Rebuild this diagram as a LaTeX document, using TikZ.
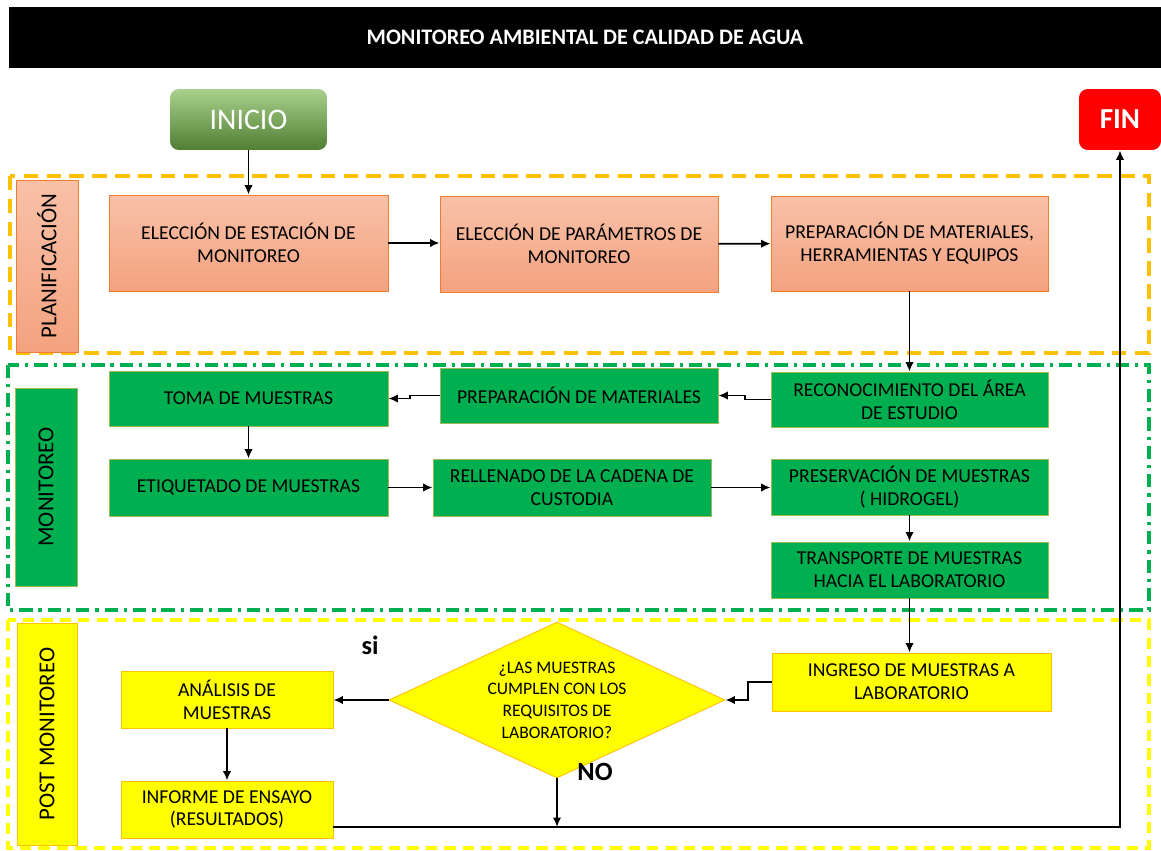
\documentclass[tikz,border=0pt]{standalone}
\usepackage{fontspec}
\setmainfont{Carlito}
\usetikzlibrary{shapes.geometric,arrows.meta}

\definecolor{plantop}{HTML}{F8C1A8}
\definecolor{planbot}{HTML}{F4A27F}
\definecolor{planborde}{HTML}{ED7D31}
\definecolor{monverde}{HTML}{00B050}
\definecolor{monborde}{HTML}{9BBB59}
\definecolor{postamar}{HTML}{FFFF00}
\definecolor{postborde}{HTML}{FFC000}
\definecolor{marconar}{HTML}{FFC000}
\definecolor{iniciotop}{HTML}{A9D18E}
\definecolor{iniciobot}{HTML}{507E32}

\begin{document}
\begin{tikzpicture}[x=0.02cm, y=-0.02cm,
  caja/.style={draw, line width=0.5pt, align=center, inner sep=0pt,
    font=\fontsize{11.2}{13}\selectfont, text=black},
  plan/.style={caja, draw=planborde, top color=plantop, bottom color=planbot},
  monit/.style={caja, draw=monborde, fill=monverde},
  post/.style={caja, draw=postborde, fill=postamar},
  etapa/.style={rotate=90, inner sep=0pt, font=\fontsize{13}{15}\selectfont},
  flecha/.style={-{Latex[length=1.9mm,width=1.7mm]}, line width=1.05pt},
  linea/.style={line width=1.05pt}]

\useasboundingbox (0,0) rectangle (1161,851);

% titulo
\node [fill=black, text=white, minimum width=23.04cm, minimum height=1.22cm, inner sep=0pt,
  font=\bfseries\fontsize{12.6}{14}\selectfont] (titulo) at (585,37.5) {MONITOREO AMBIENTAL DE CALIDAD DE AGUA};

\node [rounded corners=5pt, top color=iniciotop, bottom color=iniciobot, text=white,
  minimum width=3.14cm, minimum height=1.22cm, inner sep=0pt, font=\fontsize{17}{19}\selectfont] (inicio) at (248.5,119.5) {INICIO};
\node [rounded corners=5pt, fill=red, text=white, minimum width=1.64cm, minimum height=1.22cm,
  inner sep=0pt, font=\bfseries\fontsize{16.5}{18}\selectfont] (fin) at (1120,119.5) {FIN};

% marcos de etapas
\draw [marconar, line width=2.2pt, dash pattern=on 8.2pt off 4.8pt] (10,176) rectangle (1149,353);
\draw [monverde, line width=1.8pt, dash pattern=on 7.6pt off 3.4pt on 1.8pt off 3.4pt] (8,365) rectangle (1149,610);
\draw [postamar, line width=1.8pt, dash pattern=on 6.5pt off 4pt] (8,620) rectangle (1149,848);

\node [etapa, top color=plantop, bottom color=planbot, draw=planborde, line width=0.5pt,
  minimum width=3.44cm, minimum height=1.24cm] (planif) at (47,266) {PLANIFICACIÓN};
\node [etapa, fill=monverde, draw=monborde, line width=0.5pt,
  minimum width=3.96cm, minimum height=1.24cm] (monitoreo) at (46,487) {MONITOREO};
\node [etapa, fill=postamar, draw=postborde, line width=0.5pt,
  minimum width=4.44cm, minimum height=1.2cm] (postmon) at (47,734) {POST MONITOREO};

% planificacion
\node [plan, minimum width=5.58cm, minimum height=1.92cm] (estacion) at (248.5,243) {ELECCIÓN DE ESTACIÓN DE\\MONITOREO};
\node [plan, minimum width=5.56cm, minimum height=1.92cm] (parametros) at (579,244) {ELECCIÓN DE PARÁMETROS DE\\MONITOREO};
\node [plan, minimum width=5.54cm, minimum height=1.9cm] (materiales) at (909.5,243.5) {PREPARACIÓN DE MATERIALES,\\HERRAMIENTAS Y EQUIPOS};

% monitoreo
\node [monit, minimum width=5.58cm, minimum height=1.1cm] (toma) at (248.5,398.5) {TOMA DE MUESTRAS};
\node [monit, minimum width=5.56cm, minimum height=1.1cm] (prep) at (579,395.5) {PREPARACIÓN DE MATERIALES};
\node [monit, minimum width=5.54cm, minimum height=1.1cm] (reco) at (909.5,399.5) {RECONOCIMIENTO DEL ÁREA\\DE ESTUDIO};
\node [monit, minimum width=5.58cm, minimum height=1.14cm] (etiqueta) at (248.5,487.5) {ETIQUETADO DE MUESTRAS};
\node [monit, minimum width=5.56cm, minimum height=1.14cm] (cadena) at (572,487.5) {RELLENADO DE LA CADENA DE\\CUSTODIA};
\node [monit, minimum width=5.54cm, minimum height=1.12cm] (preserva) at (909.5,487) {PRESERVACIÓN DE MUESTRAS\\( HIDROGEL)};
\node [monit, minimum width=5.54cm, minimum height=1.12cm] (transporte) at (909.5,570) {TRANSPORTE DE MUESTRAS\\HACIA EL LABORATORIO};

% post monitoreo
\node [post, minimum width=5.58cm, minimum height=1.16cm] (ingreso) at (911.5,682) {INGRESO DE MUESTRAS A\\LABORATORIO};
\node [post, diamond, shape aspect=2.15, minimum width=6.72cm, minimum height=3.12cm,
  font=\fontsize{10}{12.3}\selectfont] (requisitos) at (557,700) {¿LAS MUESTRAS\\CUMPLEN CON LOS\\REQUISITOS DE\\LABORATORIO?};
\node [post, minimum width=4.24cm, minimum height=1.14cm] (analisis) at (227,699.5) {ANÁLISIS DE\\MUESTRAS};
\node [post, minimum width=4.24cm, minimum height=1.14cm] (informe) at (227,809.5) {INFORME DE ENSAYO\\(RESULTADOS)};
\node [font=\bfseries\fontsize{15}{17}\selectfont] (si) at (370,645) {si};
\node [font=\bfseries\fontsize{15}{17}\selectfont] (no) at (595,772) {NO};
\coordinate (retorno) at (557,827);

% conectores
\draw [flecha] (inicio) -- (estacion);
\draw [flecha] (estacion.east) -- (estacion.east -| parametros.west);
\draw [flecha] (parametros) -- (materiales);
\draw [flecha] (materiales) -- (reco);
\draw [flecha] (reco.west) -- ++(-26,0) |- (prep.east);
\draw [flecha] (prep.west) -- ++(-30,0) |- (toma.east);
\draw [flecha] (toma) -- (etiqueta);
\draw [flecha] (etiqueta) -- (cadena);
\draw [flecha] (cadena.east) -- (cadena.east -| preserva.west);
\draw [flecha] (preserva) -- (transporte);
\draw [flecha] (transporte.south) -- (transporte.south |- ingreso.north);
\draw [flecha] (ingreso.west) -- ++(-24,0) |- (requisitos.east);
\draw [flecha] (requisitos.west) -- (requisitos.west -| analisis.east);
\draw [flecha] (analisis) -- (informe);
\draw [flecha] (requisitos.south) -- (retorno);
\draw [flecha] (informe.east |- retorno) -| (fin.south);

\end{tikzpicture}
\end{document}
